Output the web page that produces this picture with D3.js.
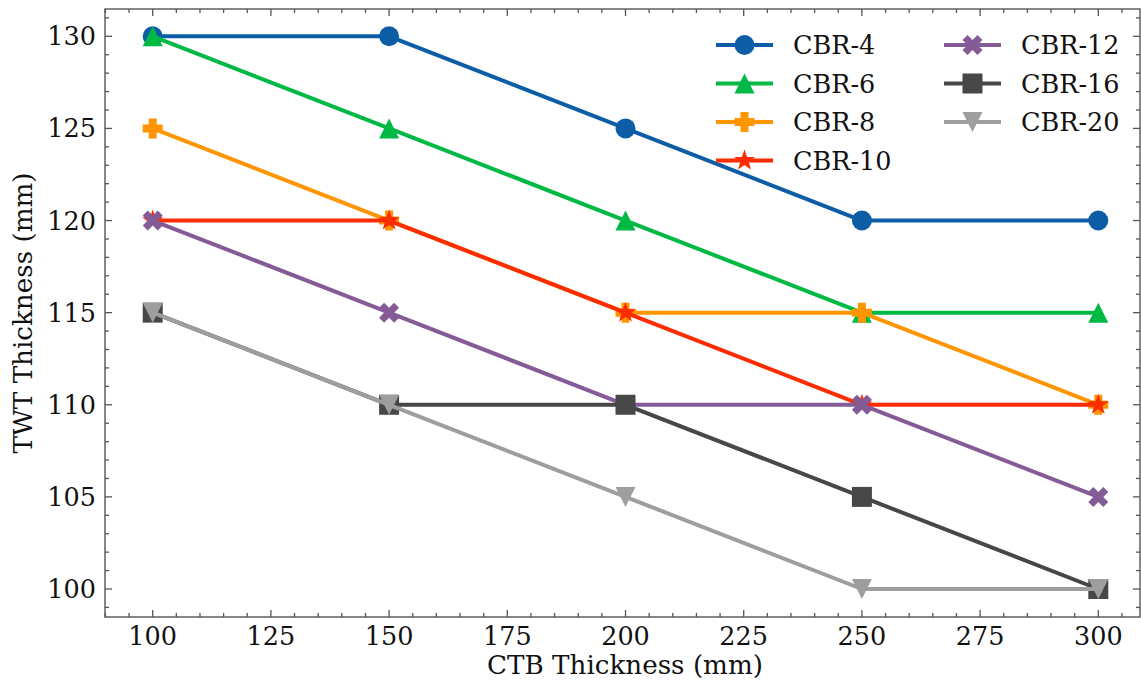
<!DOCTYPE html>
<html>
  <head>
    <meta charset="utf-8">
    <title>TWT vs CTB thickness</title>
    <script src="https://d3js.org/d3.v7.min.js"></script>
    <style>
      body { margin: 0; background: white; }
      svg text { font-family: "DejaVu Serif", serif; fill: #111; }
    </style>
  </head>
  <body>
    <svg id="chart" width="1141" height="686"></svg>
    <script>
      // chart data
      var ctb = [100, 150, 200, 250, 300];
      var seriesNames = ["CBR-4", "CBR-6", "CBR-8", "CBR-10", "CBR-12", "CBR-16", "CBR-20"];
      var cbr4 = [130, 130, 125, 120, 120];
      var cbr6 = [130, 125, 120, 115, 115];
      var cbr8 = [125, 120, 115, 115, 110];
      var cbr10 = [120, 120, 115, 110, 110];
      var cbr12 = [120, 115, 110, 110, 105];
      var cbr16 = [115, 110, 110, 105, 100];
      var cbr20 = [115, 110, 105, 100, 100];
      var xTicks = [100, 125, 150, 175, 200, 225, 250, 275, 300];
      var yTicks = [100, 105, 110, 115, 120, 125, 130];

      var seriesValues = [cbr4, cbr6, cbr8, cbr10, cbr12, cbr16, cbr20];
      var colours = ["#0C5DA5", "#00B945", "#FF9500", "#FF2C00", "#845B97", "#474747", "#9e9e9e"];
      var markers = ["circle", "triUp", "plus", "star", "x", "square", "triDown"];

      // marker shapes (about 20px across)
      function markerPath(type) {
        var s = 10;
        function poly(pts, k) {
          return "M" + pts.map(function(p) { return [p[0] * k, p[1] * k].join(","); }).join("L") + "Z";
        }
        if (type == "circle") return d3.symbol(d3.symbolCircle, Math.PI * s * s)();
        if (type == "square") return poly([[-1, -1], [1, -1], [1, 1], [-1, 1]], s);
        if (type == "triUp") return poly([[0, -1], [1, 1], [-1, 1]], s);
        if (type == "triDown") return poly([[0, 1], [1, -1], [-1, -1]], s);
        if (type == "plus") return poly([[-1.2, -3], [1.2, -3], [1.2, -1.2], [3, -1.2], [3, 1.2], [1.2, 1.2], [1.2, 3], [-1.2, 3], [-1.2, 1.2], [-3, 1.2], [-3, -1.2], [-1.2, -1.2]], s / 3);
        if (type == "x") return poly([[-1, -2], [0, -1], [1, -2], [2, -1], [1, 0], [2, 1], [1, 2], [0, 1], [-1, 2], [-2, 1], [-1, 0], [-2, -1]], s / 2);
        if (type == "star") {
          var pts = [];
          for (var i = 0; i < 10; i++) {
            var r = i % 2 ? 0.4 : 1;
            var a = -Math.PI / 2 + i * Math.PI / 5;
            pts.push([r * Math.cos(a), r * Math.sin(a)]);
          }
          return poly(pts, s * 1.1);
        }
      }

      var svg = d3.select("#chart");
      var plotLeft = 105, plotRight = 1140, plotTop = 9, plotBottom = 617;

      var x = d3.scaleLinear().domain([100, 300]).range([152.7, 1098.3]);
      var y = d3.scaleLinear().domain([100, 130]).range([589, 36.3]);

      var plot = svg.append("g");

      // lines and markers
      seriesValues.forEach(function(vals, i) {
        var g = plot.append("g");
        g.append("path")
          .datum(vals)
          .attr("fill", "none")
          .attr("stroke", colours[i])
          .attr("stroke-width", 4)
          .attr("stroke-linejoin", "round")
          .attr("d", d3.line().x(function(d, j) { return x(ctb[j]); }).y(function(d) { return y(d); }));
        g.selectAll(".pt")
          .data(vals)
          .enter().append("path")
            .attr("transform", function(d, j) { return "translate(" + x(ctb[j]) + "," + y(d) + ")"; })
            .attr("d", markerPath(markers[i]))
            .attr("fill", colours[i]);
      });

      // frame
      svg.append("rect")
        .attr("x", plotLeft).attr("y", plotTop)
        .attr("width", plotRight - plotLeft).attr("height", plotBottom - plotTop)
        .attr("fill", "none").attr("stroke", "#555").attr("stroke-width", 1.4);

      // inward ticks on all sides
      var ticks = svg.append("g").attr("stroke", "#555").attr("stroke-width", 1.3);
      var xMinor = d3.range(90, 311, 5).filter(function(v) { return v % 25 != 0; });
      var yMinor = d3.range(99, 132, 1).filter(function(v) { return v % 5 != 0; });
      function xTick(v, len) {
        ticks.append("line").attr("x1", x(v)).attr("x2", x(v)).attr("y1", plotBottom).attr("y2", plotBottom - len);
        ticks.append("line").attr("x1", x(v)).attr("x2", x(v)).attr("y1", plotTop).attr("y2", plotTop + len);
      }
      function yTick(v, len) {
        ticks.append("line").attr("y1", y(v)).attr("y2", y(v)).attr("x1", plotLeft).attr("x2", plotLeft + len);
        ticks.append("line").attr("y1", y(v)).attr("y2", y(v)).attr("x1", plotRight).attr("x2", plotRight - len);
      }
      xTicks.forEach(function(v) { xTick(v, 7); });
      xMinor.forEach(function(v) { if (x(v) > plotLeft && x(v) < plotRight) xTick(v, 4); });
      yTicks.forEach(function(v) { yTick(v, 7); });
      yMinor.forEach(function(v) { if (y(v) > plotTop && y(v) < plotBottom) yTick(v, 4); });

      // tick labels
      svg.selectAll(".xl")
        .data(xTicks)
        .enter().append("text")
          .attr("x", function(d) { return x(d); })
          .attr("y", 645)
          .attr("text-anchor", "middle")
          .attr("font-size", 25.5)
          .text(function(d) { return d; });
      svg.selectAll(".yl")
        .data(yTicks)
        .enter().append("text")
          .attr("x", 96)
          .attr("y", function(d) { return y(d) + 9; })
          .attr("text-anchor", "end")
          .attr("font-size", 25.5)
          .text(function(d) { return d; });

      // axis titles
      svg.append("text")
        .attr("x", 625).attr("y", 674)
        .attr("text-anchor", "middle")
        .attr("font-size", 26.2)
        .text("CTB Thickness (mm)");
      svg.append("text")
        .attr("transform", "translate(32,313) rotate(-90)")
        .attr("text-anchor", "middle")
        .attr("font-size", 26.2)
        .text("TWT Thickness (mm)");

      // legend
      var legend = svg.append("g");
      seriesNames.forEach(function(name, i) {
        var col = i < 4 ? 0 : 1;
        var row = i < 4 ? i : i - 4;
        var lx = col ? 944 : 716;
        var ly = 45 + row * 38.5;
        var item = legend.append("g");
        item.append("line")
          .attr("x1", lx).attr("x2", lx + 57)
          .attr("y1", ly).attr("y2", ly)
          .attr("stroke", colours[i]).attr("stroke-width", 4);
        item.append("path")
          .attr("transform", "translate(" + (lx + 28.5) + "," + ly + ")")
          .attr("d", markerPath(markers[i]))
          .attr("fill", colours[i]);
        item.append("text")
          .attr("x", lx + 77).attr("y", ly + 9)
          .attr("font-size", 25.5)
          .text(name);
      });
    </script>
  </body>
</html>
